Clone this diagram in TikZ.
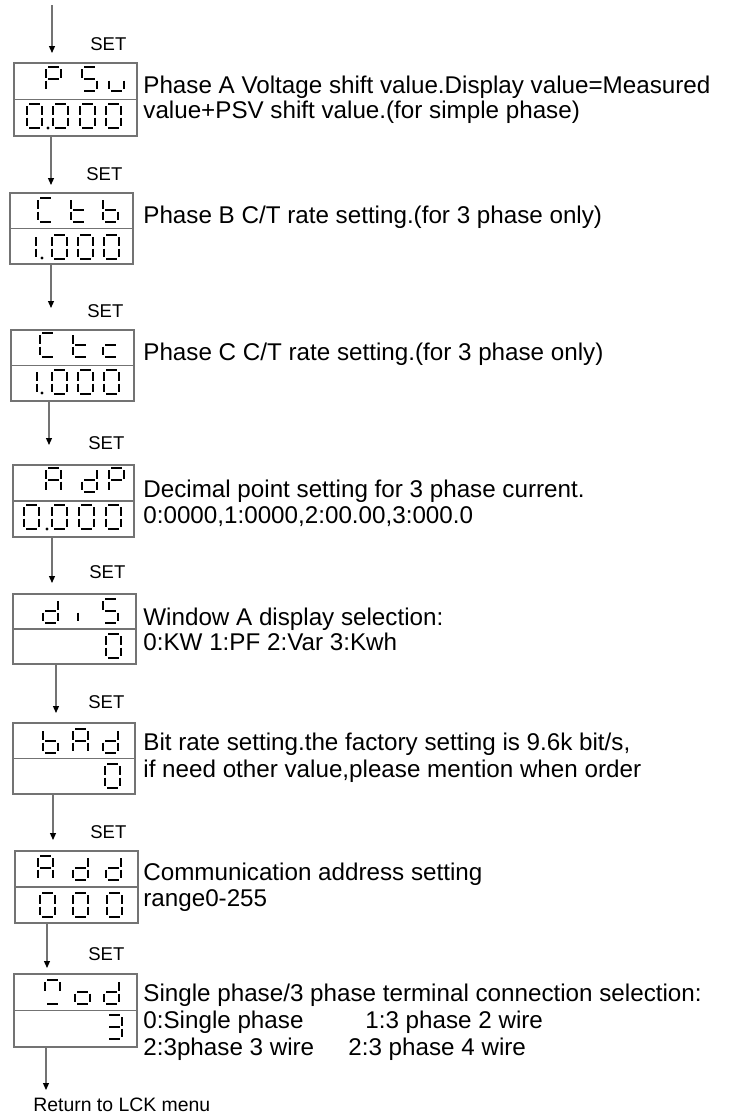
\documentclass[tikz,border=0pt]{standalone}
\usepackage{fontspec}
\setmainfont{Liberation Sans}
\usetikzlibrary{arrows.meta}
\definecolor{framegray}{gray}{0.45}
\tikzset{
  seg/.style={line width=1.2pt},
  segA/.style={insert path={(2,0) -- (13,0)}},
  segB/.style={insert path={(15,2) -- (15,10.5)}},
  segC/.style={insert path={(15,13.5) -- (15,22)}},
  segD/.style={insert path={(2,24) -- (13,24)}},
  segE/.style={insert path={(0,13.5) -- (0,22)}},
  segF/.style={insert path={(0,2) -- (0,10.5)}},
  segG/.style={insert path={(2,12) -- (13,12)}},
  panel/.style={draw=framegray, line width=0.75pt, anchor=north west, inner sep=0pt},
  flow/.style={draw=framegray, line width=0.6pt, -{Triangle[length=3.5pt,width=3pt,color=black]}},
  desc/.style={anchor=base west, inner sep=0pt, font=\fontsize{12.1pt}{14pt}\selectfont},
  setlbl/.style={anchor=base west, inner sep=0pt, font=\fontsize{9.25pt}{11pt}\selectfont}
}
% one seven-segment digit: left, top, list of segments
\newcommand{\digit}[3]{\foreach \s in {#3}{\draw[seg, shift={(#1,#2)}, seg\s];}}
\newcommand{\dpoint}[2]{\fill (#1,#2) circle (1.6);}

\begin{document}
\begin{tikzpicture}[x=0.5pt,y=-0.5pt]
\useasboundingbox (0,0) rectangle (733,1114);
% panels
\node[panel, minimum width=61.5pt, minimum height=36.5pt] (psv) at (13,62) {};
\node[panel, minimum width=61.5pt, minimum height=35.5pt] (ctb) at (9,192) {};
\node[panel, minimum width=61.5pt, minimum height=35.5pt] (ctc) at (10,329) {};
\node[panel, minimum width=60.5pt, minimum height=36pt] (adp) at (12,464) {};
\node[panel, minimum width=61.5pt, minimum height=35pt] (dis) at (12,593) {};
\node[panel, minimum width=61pt, minimum height=35.5pt] (bad) at (12,722) {};
\node[panel, minimum width=61.5pt, minimum height=36pt] (add) at (14,850) {};
\node[panel, minimum width=61.5pt, minimum height=36.5pt] (mod) at (13,973) {};
\foreach \p in {psv,ctb,ctc,adp,dis,bad,add,mod}
  \draw[draw=framegray, line width=0.75pt] (\p.west) -- (\p.east);

% arrow ends
\coordinate (top) at (52,5);
\coordinate (t1) at (52,53);
\coordinate (t2) at (51,185);
\coordinate (t3) at (51,308);
\coordinate (t4) at (49,445);
\coordinate (t5) at (52,583);
\coordinate (t6) at (56,713);
\coordinate (t7) at (53,840);
\coordinate (t8) at (47,968);
\coordinate (t9) at (46,1090);
\draw[flow] (top) -- (t1);
\draw[flow] (psv.south -| t2) -- (t2);
\draw[flow] (ctb.south -| t3) -- (t3);
\draw[flow] (ctc.south -| t4) -- (t4);
\draw[flow] (adp.south -| t5) -- (t5);
\draw[flow] (dis.south -| t6) -- (t6);
\draw[flow] (bad.south -| t7) -- (t7);
\draw[flow] (add.south -| t8) -- (t8);
\draw[flow] (mod.south -| t9) -- (t9);

% SET labels
\node[setlbl] (set1) at (90,50) {SET};
\node[setlbl] (set2) at (86,180) {SET};
\node[setlbl] (set3) at (87,317) {SET};
\node[setlbl] (set4) at (88,449) {SET};
\node[setlbl] (set5) at (89,578) {SET};
\node[setlbl] (set6) at (88,708) {SET};
\node[setlbl] (set7) at (90,838) {SET};
\node[setlbl] (set8) at (88,960) {SET};
\node[anchor=base west, inner sep=0pt, font=\fontsize{9.7pt}{11pt}\selectfont] (back) at (33,1111) {Return to LCK menu};

% PSV / 0.000
\digit{46}{67}{A,B,E,F,G} \digit{82}{67}{A,C,D,F,G} \digit{109}{67}{C,D,E}
\digit{27}{104}{A,B,C,D,E,F} \digit{53}{104}{A,B,C,D,E,F} \digit{80}{104}{A,B,C,D,E,F} \digit{106}{104}{A,B,C,D,E,F}
\dpoint{48}{128}
% Ctb / 1.000
\digit{38}{198}{A,D,E,F} \digit{71}{198}{D,E,F,G} \digit{103}{198}{C,D,E,F,G}
\digit{21}{235}{B,C} \digit{52}{235}{A,B,C,D,E,F} \digit{78}{235}{A,B,C,D,E,F} \digit{104}{235}{A,B,C,D,E,F}
\dpoint{42}{258}
% Ctc / 1.000
\digit{40}{333}{A,D,E,F} \digit{73}{333}{D,E,F,G} \digit{103}{333}{D,E,G}
\digit{22}{370}{B,C} \digit{52}{370}{A,B,C,D,E,F} \digit{78}{370}{A,B,C,D,E,F} \digit{104}{370}{A,B,C,D,E,F}
\dpoint{42}{393}
% AdP / 0.000
\digit{46}{468}{A,B,C,E,F,G} \digit{82}{468}{B,C,D,E,G} \digit{109}{468}{A,B,E,F,G}
\digit{24}{505}{A,B,C,D,E,F} \digit{52}{505}{A,B,C,D,E,F} \digit{79}{505}{A,B,C,D,E,F} \digit{106}{505}{A,B,C,D,E,F}
\dpoint{47}{529}
% diS / 0
\digit{43}{599}{B,C,D,E,G} \digit{63}{599}{C} \digit{103}{599}{A,C,D,F,G}
\digit{106}{634}{A,B,C,D,E,F}
% bAd / 0
\digit{43}{729}{C,D,E,F,G} \digit{73}{729}{A,B,C,E,F,G} \digit{103}{729}{B,C,D,E,G}
\digit{105}{764}{A,B,C,D,E,F}
% Add / 000
\digit{38}{856}{A,B,C,E,F,G} \digit{73}{856}{B,C,D,E,G} \digit{106}{856}{B,C,D,E,G}
\digit{40}{893}{A,B,C,D,E,F} \digit{73}{893}{A,B,C,D,E,F} \digit{107}{893}{A,B,C,D,E,F}
% Mod / 3
\digit{45}{980}{A,B,D,F} \digit{75}{980}{C,D,E,G} \digit{104}{980}{B,C,D,E,G}
\digit{107}{1015}{A,B,C,D,G}

% descriptions
\node[desc] (d1a) at (143,93) {Phase A Voltage shift value.Display value=Measured};
\node[desc] (d1b) at (143,118) {value+PSV shift value.(for simple phase)};
\node[desc] (d2) at (143,223) {Phase B C/T rate setting.(for 3 phase only)};
\node[desc] (d3) at (143,360) {Phase C C/T rate setting.(for 3 phase only)};
\node[desc] (d4a) at (143,497) {Decimal point setting for 3 phase current.};
\node[desc] (d4b) at (143,523) {0:0000,1:0000,2:00.00,3:000.0};
\node[desc] (d5a) at (143,625) {Window A display selection:};
\node[desc] (d5b) at (143,650) {0:KW 1:PF 2:Var 3:Kwh};
\node[desc] (d6a) at (143,750) {Bit rate setting.the factory setting is 9.6k bit/s,};
\node[desc] (d6b) at (143,777) {if need other value,please mention when order};
\node[desc] (d7a) at (143,880) {Communication address setting};
\node[desc] (d7b) at (143,906) {range0-255};
\node[desc] (d8a) at (143,1001) {Single phase/3 phase terminal connection selection:};
\node[desc] (d8b) at (143,1028) {0:Single phase};
\node[desc] (d8c) at (365,1028) {1:3 phase 2 wire};
\node[desc] (d8d) at (143,1055) {2:3phase 3 wire};
\node[desc] (d8e) at (348,1055) {2:3 phase 4 wire};
\end{tikzpicture}
\end{document}
